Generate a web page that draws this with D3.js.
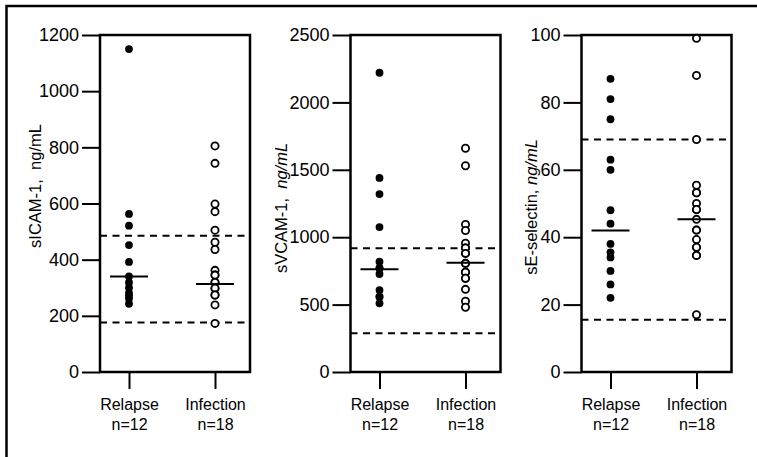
<!DOCTYPE html>
<html>
<head>
<meta charset="utf-8">
<script src="https://cdn.jsdelivr.net/npm/d3@7"></script>
<style>
  body { margin: 0; background: #fff; }
  svg { display: block; font-family: "Liberation Sans", Arial, Helvetica, sans-serif; }
</style>
</head>
<body>
<svg id="chart"></svg>
<script>
// groups on the x axis
const groups = ["Relapse", "Infection"];
const groupSizes = ["n=12", "n=18"];

// sICAM-1 (ng/mL)
const sicamTicks = [0, 200, 400, 600, 800, 1000, 1200];
const sicamRelapse = [1150, 563, 521, 452, 392, 340, 319, 300, 282, 272, 262, 243];
const sicamInfection = [805, 743, 598, 571, 505, 462, 436, 362, 345, 345, 319, 319, 298, 298, 274, 274, 239, 173];
const sicamMedians = [340, 313];
const sicamRefs = [485, 176];

// sVCAM-1 (ng/mL)
const svcamTicks = [0, 500, 1000, 1500, 2000, 2500];
const svcamRelapse = [2220, 1440, 1320, 1075, 818, 770, 770, 727, 608, 559, 559, 510];
const svcamInfection = [1660, 1530, 1095, 1050, 955, 920, 920, 880, 880, 806, 806, 740, 740, 695, 695, 613, 525, 480];
const svcamMedians = [762, 811];
const svcamRefs = [918, 287];

// sE-selectin (ng/mL)
const seselTicks = [0, 20, 40, 60, 80, 100];
const seselRelapse = [87, 81, 75, 63, 60, 48, 44, 38, 35.5, 34, 30, 26, 22];
const seselInfection = [99, 88, 69, 55.4, 53.2, 53.2, 50, 48.2, 48.2, 45.3, 42.1, 42.1, 39.3, 37, 37, 34.6, 34.6, 17];
const seselMedians = [42, 45.3];
const seselRefs = [69, 15.5];

const panels = [
  { label: "sICAM-1,\u00a0\u00a0", unit: "ng/mL", italic: false, ticks: sicamTicks,
    relapse: sicamRelapse, infection: sicamInfection, medians: sicamMedians, refs: sicamRefs,
    left: 100, titleX: 41, titleY: 186 },
  { label: "sVCAM-1,\u00a0\u00a0", unit: "ng/mL", italic: true, ticks: svcamTicks,
    relapse: svcamRelapse, infection: svcamInfection, medians: svcamMedians, refs: svcamRefs,
    left: 350.5, titleX: 287, titleY: 208 },
  { label: "sE-selectin, ", unit: "ng/mL", italic: true, ticks: seselTicks,
    relapse: seselRelapse, infection: seselInfection, medians: seselMedians, refs: seselRefs,
    left: 581.5, titleX: 537, titleY: 207 }
];

const width = 757, height = 457;
const plotTop = 35, plotBottom = 372, panelW = 150;

const svg = d3.select("#chart").attr("width", width).attr("height", height);
svg.append("rect").attr("width", width).attr("height", height).attr("fill", "#fff");

// outer frame (only top and left edges are visible)
svg.append("path")
  .attr("d", `M6.5,${height}V6H${width}`)
  .attr("fill", "none").attr("stroke", "#000").attr("stroke-width", 2.5);

panels.forEach(p => {
  const g = svg.append("g").attr("transform", `translate(${p.left},0)`);
  const y = d3.scaleLinear().domain([0, d3.max(p.ticks)]).range([plotBottom, plotTop]);
  const x = d3.scalePoint().domain(groups).range([29, 115]);

  // y axis
  const ya = g.append("g").call(d3.axisLeft(y).tickValues(p.ticks).tickFormat(d3.format("d"))
    .tickSize(18).tickPadding(3));
  ya.select(".domain").remove();
  ya.attr("font-family", null).attr("font-size", null);
  ya.selectAll(".tick line").attr("stroke-width", 2);
  ya.selectAll(".tick text").attr("font-size", 18).attr("fill", "#000");

  // x axis
  const xa = g.append("g").attr("transform", `translate(0,${plotBottom})`)
    .call(d3.axisBottom(x).tickSize(17).tickFormat(""));
  xa.select(".domain").remove();
  xa.attr("font-family", null).attr("font-size", null);
  xa.selectAll(".tick line").attr("stroke-width", 2);
  xa.selectAll(".tick").append("text")
    .attr("y", 38).attr("fill", "#000").attr("font-size", 16)
    .text(d => d);
  xa.selectAll(".tick").append("text")
    .attr("y", 58).attr("fill", "#000").attr("font-size", 16)
    .text((d, i) => groupSizes[i]);

  // reference range (dashed)
  g.selectAll(".ref").data(p.refs).join("line")
    .attr("x1", 0).attr("x2", panelW)
    .attr("y1", d => y(d)).attr("y2", d => y(d))
    .attr("stroke", "#000").attr("stroke-width", 2).attr("stroke-dasharray", "7,5.5");

  // frame
  g.append("rect").attr("x", 0).attr("y", plotTop).attr("width", panelW).attr("height", plotBottom - plotTop)
    .attr("fill", "none").attr("stroke", "#000").attr("stroke-width", 2.5);

  // points
  g.selectAll(".rel").data(p.relapse).join("circle")
    .attr("cx", x("Relapse")).attr("cy", d => y(d)).attr("r", 3.9).attr("fill", "#000");
  g.selectAll(".inf").data(p.infection).join("circle")
    .attr("cx", x("Infection")).attr("cy", d => y(d)).attr("r", 3.6)
    .attr("fill", "#fff").attr("stroke", "#000").attr("stroke-width", 1.8);

  // medians
  g.selectAll(".med").data(p.medians).join("line")
    .attr("x1", (d, i) => x(groups[i]) - 19).attr("x2", (d, i) => x(groups[i]) + 19)
    .attr("y1", d => y(d)).attr("y2", d => y(d))
    .attr("stroke", "#000").attr("stroke-width", 2);

  // axis title
  const t = svg.append("text")
    .attr("transform", `translate(${p.titleX},${p.titleY}) rotate(-90)`)
    .attr("text-anchor", "middle").attr("font-size", 16.5);
  t.append("tspan").text(p.label);
  t.append("tspan").attr("font-style", p.italic ? "italic" : null).text(p.unit);
});
</script>
</body>
</html>
